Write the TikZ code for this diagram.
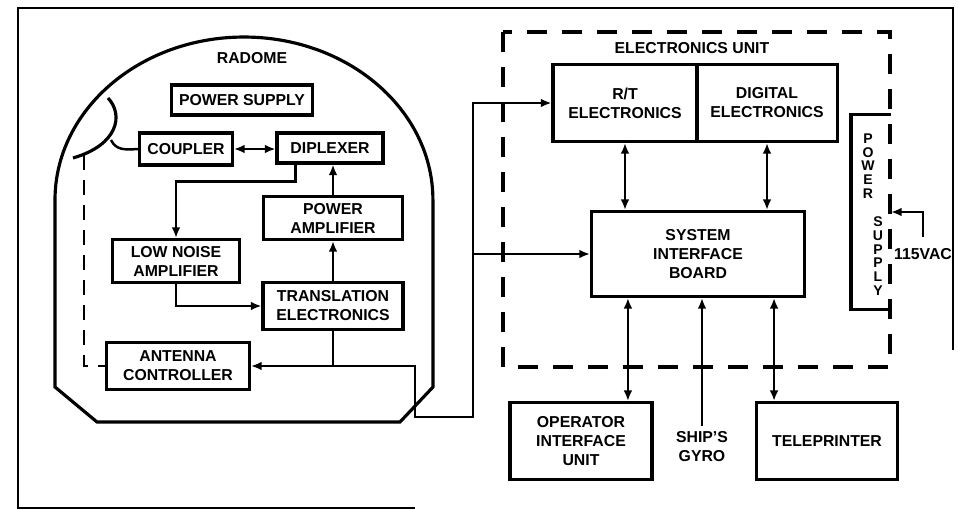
\documentclass[tikz,border=0pt]{standalone}
\usepackage{fontspec}
\setmainfont{Liberation Sans}
\usetikzlibrary{arrows.meta}

\begin{document}
\begin{tikzpicture}[x=0.02cm, y=-0.02cm,
    >={Latex[length=6pt,width=5pt]},
    box/.style={draw, line width=1.8pt, inner sep=0pt, align=center,
      font=\bfseries\fontsize{9}{10.8}\selectfont},
    txt/.style={align=center, font=\bfseries\fontsize{9}{10.8}\selectfont},
    wire/.style={line width=1.4pt},
    outline/.style={line width=1.8pt}]
    \useasboundingbox (0,0) rectangle (958,510);
    % frame
    \draw[line width=1.6pt] (415,508) -- (18,508) -- (18,8) -- (953,8) -- (953,350);
    % radome
    \draw[outline] (55,387) -- (55,200)
      arc[start angle=180, end angle=0, x radius=3.78cm, y radius=3.26cm]
      -- (433,387) -- (400,422) -- (97,422) -- cycle;
    \node[txt] (radome) at (252,58) {RADOME};
    \node[box, minimum width=2.82cm, minimum height=0.6cm] (psu) at (242,100) {POWER SUPPLY};
    \node[box, minimum width=1.86cm, minimum height=0.64cm] (coupler) at (186,149) {COUPLER};
    \node[box, minimum width=2.12cm, minimum height=0.6cm] (diplexer) at (330,148) {DIPLEXER};
    \node[box, minimum width=2.78cm, minimum height=0.86cm] (pamp) at (333,218) {POWER\\AMPLIFIER};
    \node[box, minimum width=2.54cm, minimum height=0.86cm] (lna) at (176,261) {LOW NOISE\\AMPLIFIER};
    \node[box, minimum width=2.8cm, minimum height=0.94cm] (trans) at (333,306) {TRANSLATION\\ELECTRONICS};
    \node[box, minimum width=2.86cm, minimum height=0.94cm] (antc) at (178,366) {ANTENNA\\CONTROLLER};
    % dish
    \coordinate (feedpt) at (111,140);
    \coordinate (dishfoot) at (84,155);
    \draw[outline] (108,98) .. controls (124,115) and (118,145) .. (73,158);
    \draw[wire] (feedpt) .. controls (116,150) and (124,150) .. (coupler.west);
    \draw[wire, dash pattern=on 0.3cm off 0.2cm] (dishfoot) |- (antc.west);
    % electronics unit
    \draw[outline, dash pattern=on 0.4cm off 0.3cm] (503,32) rectangle (890,367);
    \node[txt] (eunit) at (692,48) {ELECTRONICS UNIT};
    \node[box, minimum width=2.88cm, minimum height=1.54cm] (rt) at (625,103) {R/T\\ELECTRONICS};
    \node[box, minimum width=2.82cm, minimum height=1.54cm] (dig) at (767,103) {DIGITAL\\ELECTRONICS};
    \node[box, minimum width=4.26cm, minimum height=1.7cm] (sib) at (698,254) {SYSTEM\\INTERFACE\\BOARD};
    \node[box, draw=none, minimum width=0.74cm, minimum height=3.84cm] (epsu) at (871,212) {};
    \draw[outline] (epsu.north east) -- (epsu.north west) -- (epsu.south west) -- (epsu.south east);
    \node[txt, font=\bfseries\fontsize{8}{7.8}\selectfont] (epsutop) at (868,166) {P\\O\\W\\E\\R};
    \node[txt, font=\bfseries\fontsize{8}{7.8}\selectfont] (epsubot) at (878,256) {S\\U\\P\\P\\L\\Y};
    \node[txt] (vac) at (923,254) {115VAC};
    \node[box, minimum width=2.84cm, minimum height=1.54cm] (opiu) at (581,441) {OPERATOR\\INTERFACE\\UNIT};
    \node[box, minimum width=2.82cm, minimum height=1.54cm] (tele) at (827,441) {TELEPRINTER};
    \node[txt] (gyro) at (702,447) {SHIP'S\\GYRO};
    % radome links
    \draw[wire,<->] (coupler.east) -- (coupler.east -| diplexer.west);
    \draw[wire,->] ([xshift=0.4cm]diplexer.south west) -- ++(0,17) -| (lna.north);
    \draw[wire,->] (pamp.north) -- (pamp.north |- diplexer.south);
    \draw[wire,->] (trans.north) -- (trans.north |- pamp.south);
    \draw[wire,->] (lna.south) |- (trans.west);
    \coordinate (tap) at (trans.south |- antc.east);
    \draw[wire] (trans.south) -- (tap);
    \draw[wire,->] (tap) -- (antc.east);
    % cable to electronics unit
    \coordinate (dropR) at (415,417);
    \coordinate (feedB) at (473,417);
    \draw[wire,->] (tap) -| (dropR) -- (feedB) |- (rt.west);
    \draw[wire,->] (feedB |- sib.west) -- (sib.west);
    % electronics unit links
    \draw[wire,<->] (rt.south) -- (rt.south |- sib.north);
    \draw[wire,<->] (dig.south) -- (dig.south |- sib.north);
    \coordinate (opin) at ([xshift=0.76cm]sib.south west);
    \coordinate (telin) at ([xshift=-0.64cm]sib.south east);
    \draw[wire,<->] (opin) -- (opin |- opiu.north);
    \draw[wire,<->] (telin) -- (telin |- tele.north);
    \draw[wire,->] (gyro.north) -- (gyro.north |- sib.south);
    \draw[wire,->] ([yshift=0.1cm]vac.north) |- (epsu.east);
\end{tikzpicture}
\end{document}
